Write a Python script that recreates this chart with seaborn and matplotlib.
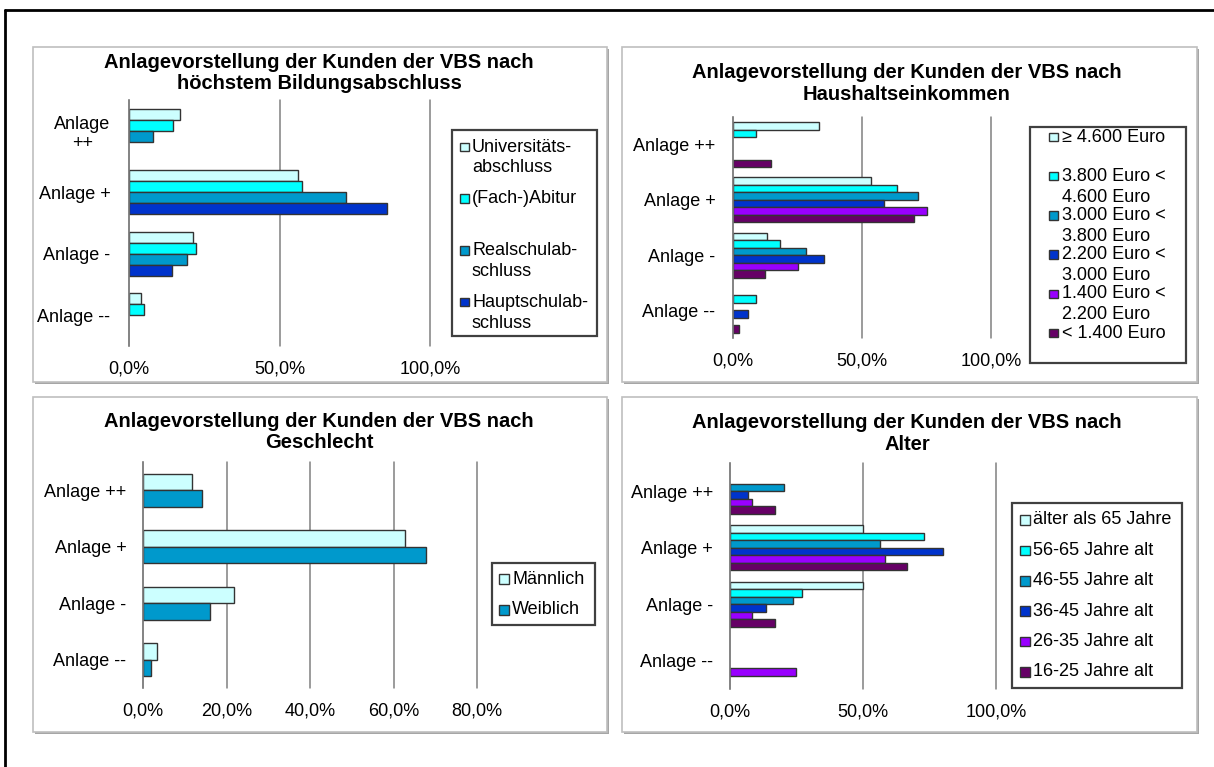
import matplotlib
matplotlib.use("Agg")
import matplotlib.pyplot as plt
import pandas as pd
import seaborn as sns
from matplotlib.patches import Rectangle
from matplotlib.lines import Line2D
from matplotlib.ticker import FuncFormatter

# ====== DATA ======
CATEGORIES = ["Anlage ++", "Anlage +", "Anlage -", "Anlage --"]

BILDUNG_GROUPS = ["Universitäts-\nabschluss", "(Fach-)Abitur", "Realschulab-\nschluss", "Hauptschulab-\nschluss"]
BILDUNG_UNI = [17.1, 56.2, 21.3, 4.1]
BILDUNG_ABI = [14.7, 57.5, 22.2, 4.9]
BILDUNG_REAL = [7.9, 72.2, 19.3, None]
BILDUNG_HAUPT = [None, 85.8, 14.3, None]

EINKOMMEN_GROUPS = ["≥ 4.600 Euro", "3.800 Euro <\n4.600 Euro", "3.000 Euro <\n3.800 Euro",
                    "2.200 Euro <\n3.000 Euro", "1.400 Euro <\n2.200 Euro", "< 1.400 Euro"]
EINK_4600 = [33.4, 53.5, 13.2, None]
EINK_3800 = [8.8, 63.7, 18.1, 8.8]
EINK_3000 = [None, 71.7, 28.4, None]
EINK_2200 = [None, 58.7, 35.4, 6.0]
EINK_1400 = [None, 75.0, 25.1, None]
EINK_UNTER = [14.8, 70.0, 12.3, 2.4]

GESCHLECHT_GROUPS = ["Männlich", "Weiblich"]
GESCHL_M = [11.8, 62.7, 21.9, 3.3]
GESCHL_W = [14.2, 67.9, 16.1, 1.9]

ALTER_GROUPS = ["älter als 65 Jahre", "56-65 Jahre alt", "46-55 Jahre alt",
                "36-45 Jahre alt", "26-35 Jahre alt", "16-25 Jahre alt"]
ALTER_65 = [None, 50.0, 50.0, None]
ALTER_56 = [None, 72.8, 27.0, None]
ALTER_46 = [20.2, 56.4, 23.8, None]
ALTER_36 = [6.7, 80.1, 13.4, None]
ALTER_26 = [8.2, 58.1, 8.2, 24.9]
ALTER_16 = [16.9, 66.7, 16.9, None]

TITLE_PREFIX = "Anlagevorstellung der Kunden der VBS nach"
# ==================

COLORS6 = ["#CCFFFF", "#00FFFF", "#0099CC", "#0033CC", "#9900FF", "#660066"]
COLORS4 = COLORS6[:4]
COLORS2 = ["#CCFFFF", "#0099CC"]

W, H = 1214, 767
TICK_FS = 13
LEG_FS = 13
TITLE_FS = 14.5


def long_frame(groups, series):
    rows = []
    for g, vals in zip(groups, series):
        for c, v in zip(CATEGORIES, vals):
            if v is not None:
                rows.append({"Kategorie": c, "Gruppe": g, "Anteil": v})
    return pd.DataFrame(rows)


def fx(x):
    return x / W


def fy(y):
    return 1 - y / H


def panel_frame(fig, x0, y0, x1, y1):
    fig.patches.append(Rectangle((fx(x0 + 2), fy(y1 + 2)), (x1 - x0) / W, (y1 - y0) / H,
                                 transform=fig.transFigure, facecolor="#A6A6A6",
                                 edgecolor="none", zorder=-3))
    fig.patches.append(Rectangle((fx(x0), fy(y1)), (x1 - x0) / W, (y1 - y0) / H,
                                 transform=fig.transFigure, facecolor="white",
                                 edgecolor="#BFBFBF", linewidth=1.2, zorder=-2))


def draw_legend(fig, box, labels, colors, first_y, step, handle_x, text_x, size, line_gap=21):
    x0, y0, x1, y1 = box
    fig.patches.append(Rectangle((fx(x0), fy(y1)), (x1 - x0) / W, (y1 - y0) / H,
                                 transform=fig.transFigure, fill=False,
                                 edgecolor="#404040", linewidth=1.6, zorder=3))
    for i, (label, color) in enumerate(zip(labels, colors)):
        yc = first_y + i * step
        fig.patches.append(Rectangle((fx(handle_x), fy(yc + size / 2)), size / W, size / H,
                                     transform=fig.transFigure, facecolor=color,
                                     edgecolor="#333333", linewidth=1.0, zorder=3))
        for j, line in enumerate(label.split("\n")):
            fig.text(fx(text_x), fy(yc + j * line_gap), line, va="center", ha="left",
                     fontsize=LEG_FS)


def bar_panel(fig, rect, df, groups, colors, xmax, xstep, width, title, title_x, title_y,
              ylabels=None, ypad=12.5):
    x0, y0, x1, y1 = rect
    ax = fig.add_axes([fx(x0), fy(y1), (x1 - x0) / W, (y1 - y0) / H])
    ax.set_facecolor("none")
    sns.barplot(data=df, y="Kategorie", x="Anteil", hue="Gruppe", order=CATEGORIES,
                hue_order=groups, palette=colors, orient="h", width=width, errorbar=None,
                saturation=1, edgecolor="#333333", linewidth=1.0, legend=False, ax=ax)
    ax.set_xlim(0, xmax)
    ax.set_xticks([i * xstep for i in range(int(round(xmax / xstep)) + 1)])
    ax.xaxis.set_major_formatter(FuncFormatter(lambda v, p: f"{v:.1f}%".replace(".", ",")))
    ax.xaxis.grid(True, color="#808080", linewidth=1.1)
    ax.yaxis.grid(False)
    ax.set_axisbelow(True)
    for line in ax.get_xgridlines():
        line.set_clip_on(False)
    for side in ["top", "right", "bottom"]:
        ax.spines[side].set_visible(False)
    ax.spines["left"].set_color("#808080")
    ax.spines["left"].set_linewidth(1.1)
    ax.set_xlabel("")
    ax.set_ylabel("")
    ax.tick_params(axis="x", length=0, pad=10.5, labelsize=TICK_FS)
    ax.tick_params(axis="y", length=0, pad=ypad, labelsize=TICK_FS)
    if ylabels is not None:
        ax.set_yticks(range(len(CATEGORIES)))
        ax.set_yticklabels(ylabels)
        for lbl in ax.get_yticklabels():
            lbl.set_multialignment("center")
    fig.text(fx(title_x), fy(title_y), f"{TITLE_PREFIX}\n{title}", ha="center", va="center",
             fontsize=TITLE_FS, fontweight="bold", linespacing=1.15)
    return ax


def main():
    sns.set_style("white")
    plt.rcParams["font.family"] = ["Liberation Sans", "DejaVu Sans"]
    plt.rcParams["text.color"] = "black"
    plt.rcParams["xtick.color"] = "black"
    plt.rcParams["ytick.color"] = "black"

    fig = plt.figure(figsize=(12.14, 7.67), dpi=100)

    # outer frame (only top and left edge visible)
    fig.add_artist(Line2D([fx(5), fx(1214)], [fy(10), fy(10)], transform=fig.transFigure,
                          color="black", linewidth=2))
    fig.add_artist(Line2D([fx(5), fx(5)], [fy(10), fy(767)], transform=fig.transFigure,
                          color="black", linewidth=2))

    panel_frame(fig, 33, 47, 607, 382)
    panel_frame(fig, 622, 47, 1197, 382)
    panel_frame(fig, 33, 397, 607, 732)
    panel_frame(fig, 622, 397, 1197, 732)

    # 1. Bildungsabschluss
    df1 = long_frame(BILDUNG_GROUPS, [BILDUNG_UNI, BILDUNG_ABI, BILDUNG_REAL, BILDUNG_HAUPT])
    bar_panel(fig, (129, 100, 430, 346), df1, BILDUNG_GROUPS, COLORS4, 100, 50, 0.71,
              "höchstem Bildungsabschluss", 319, 73,
              ylabels=["Anlage\n++", "Anlage +", "Anlage -", "Anlage --"], ypad=13.4)
    draw_legend(fig, (452, 130, 597, 336), BILDUNG_GROUPS, COLORS4, 147, 51.7, 460, 472, 8.5, 21)

    # 2. Haushaltseinkommen
    df2 = long_frame(EINKOMMEN_GROUPS, [EINK_4600, EINK_3800, EINK_3000, EINK_2200, EINK_1400, EINK_UNTER])
    bar_panel(fig, (733, 117, 991, 338), df2, EINKOMMEN_GROUPS, COLORS6, 100, 50, 0.81,
              "Haushaltseinkommen", 907, 83.5, ypad=12.7)
    draw_legend(fig, (1030, 127, 1186, 363), EINKOMMEN_GROUPS, COLORS6, 137, 39.2, 1049, 1062, 8.5, 21)

    # 3. Geschlecht
    df3 = long_frame(GESCHLECHT_GROUPS, [GESCHL_M, GESCHL_W])
    bar_panel(fig, (143, 462, 477, 688), df3, GESCHLECHT_GROUPS, COLORS2, 80, 20, 0.58,
              "Geschlecht", 319, 432, ypad=12)
    draw_legend(fig, (492, 563, 595, 625), GESCHLECHT_GROUPS, COLORS2, 579, 31, 499, 512, 9.5, 21)

    # 4. Alter
    df4 = long_frame(ALTER_GROUPS, [ALTER_65, ALTER_56, ALTER_46, ALTER_36, ALTER_26, ALTER_16])
    bar_panel(fig, (730, 463, 996, 689), df4, ALTER_GROUPS, COLORS6, 100, 50, 0.8,
              "Alter", 907, 433.5, ypad=12.3)
    draw_legend(fig, (1012, 503, 1182, 688), ALTER_GROUPS, COLORS6, 520, 30.4, 1020, 1033, 9.5, 21)

    fig.savefig("out.png", dpi=100, facecolor="white")
    plt.close(fig)


if __name__ == "__main__":
    main()
